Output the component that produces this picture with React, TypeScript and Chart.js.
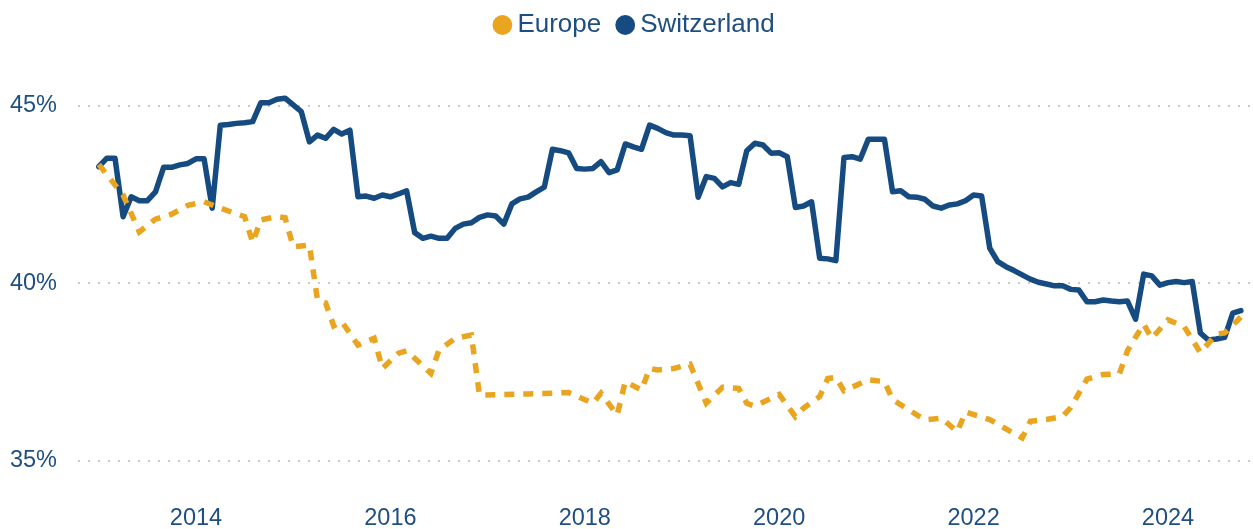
import React, { useEffect, useRef } from 'react';
import { Chart, registerables } from 'chart.js';

Chart.register(...registerables);

// ---------- data ----------
const seriesNames = ['Europe', 'Switzerland'];

// Switzerland: monthly values starting January 2013
const swissStart = '2013-01';
const swissValues = [
  43.29, 43.53, 43.53, 41.88, 42.44, 42.33, 42.33, 42.58, 43.27, 43.27, 43.34, 43.38,
  43.51, 43.51, 42.12, 44.46, 44.48, 44.51, 44.53, 44.56, 45.09, 45.09, 45.19, 45.22,
  45.03, 44.84, 43.99, 44.18, 44.09, 44.34, 44.21, 44.32, 42.44, 42.46, 42.40, 42.49,
  42.44, 42.52, 42.61, 41.43, 41.27, 41.33, 41.27, 41.27, 41.55, 41.67, 41.71, 41.86,
  41.93, 41.90, 41.67, 42.24, 42.38, 42.43, 42.58, 42.71, 43.78, 43.74, 43.68, 43.24,
  43.22, 43.24, 43.43, 43.12, 43.20, 43.93, 43.85, 43.78, 44.46, 44.37, 44.25, 44.18,
  44.18, 44.16, 42.43, 43.01, 42.96, 42.72, 42.84, 42.79, 43.74, 43.95, 43.90, 43.67,
  43.68, 43.57, 42.14, 42.18, 42.30, 40.71, 40.69, 40.64, 43.55, 43.57, 43.50, 44.06,
  44.06, 44.06, 42.58, 42.61, 42.44, 42.43, 42.37, 42.18, 42.12, 42.21, 42.24, 42.33,
  42.49, 42.46, 40.99, 40.61, 40.47, 40.36, 40.24, 40.12, 40.03, 39.98, 39.93, 39.93,
  39.83, 39.81, 39.48, 39.48, 39.53, 39.50, 39.48, 39.50, 38.99, 40.26, 40.21, 39.95,
  40.02, 40.05, 40.02, 40.05, 38.60, 38.40, 38.43, 38.48, 39.16, 39.23,
];

// Europe: observation dates and values
const europeDates = [
  '2013-01', '2013-04', '2013-06', '2013-08', '2013-10', '2013-12', '2014-02', '2014-04',
  '2014-07', '2014-08', '2014-09', '2014-11', '2014-12', '2015-01', '2015-03', '2015-04',
  '2015-05', '2015-06', '2015-07', '2015-09', '2015-11', '2015-12', '2016-02', '2016-03',
  '2016-06', '2016-07', '2016-09', '2016-11', '2016-12', '2017-06', '2017-11', '2018-02',
  '2018-03', '2018-05', '2018-06', '2018-08', '2018-09', '2018-10', '2018-12', '2019-02',
  '2019-04', '2019-06', '2019-08', '2019-09', '2019-10', '2020-01', '2020-03', '2020-04',
  '2020-06', '2020-07', '2020-08', '2020-09', '2020-12', '2021-02', '2021-03', '2021-07',
  '2021-09', '2021-11', '2021-12', '2022-03', '2022-07', '2022-08', '2022-10', '2022-12',
  '2023-01', '2023-03', '2023-05', '2023-07', '2023-08', '2023-09', '2023-10', '2023-11',
  '2024-01', '2024-03', '2024-05', '2024-07', '2024-08', '2024-10',
];
const europeValues = [
  43.35, 42.49, 41.45, 41.81, 41.95, 42.20, 42.30, 42.12,
  41.88, 41.15, 41.79, 41.88, 41.85, 41.03, 41.08, 39.53,
  39.45, 38.80, 38.92, 38.26, 38.45, 37.60, 38.03, 38.10,
  37.46, 38.12, 38.45, 38.54, 36.85, 36.88, 36.92, 36.62,
  36.90, 36.29, 37.23, 36.99, 37.60, 37.56, 37.60, 37.72,
  36.62, 37.07, 37.04, 36.62, 36.54, 36.87, 36.24, 36.48,
  36.81, 37.32, 37.35, 36.97, 37.28, 37.23, 36.72, 36.15,
  36.20, 35.82, 36.37, 36.16, 35.64, 36.11, 36.16, 36.25,
  36.50, 37.30, 37.43, 37.45, 38.10, 38.48, 38.85, 38.45,
  38.97, 38.78, 38.05, 38.57, 38.60, 39.05,
];

const yTickValues = [35, 40, 45];
const xTickYears = [2014, 2016, 2018, 2020, 2022, 2024];

// ---------- helpers ----------
const toYear = (d: string) => {
  const [y, m] = d.split('-').map(Number);
  return y + (m - 1) / 12;
};

const COLORS = {
  europe: '#EAA520',
  swiss: '#154B80',
  text: '#1F4E80',
  grid: '#C9C9C9',
};
const FONT = "'Liberation Sans', Arial, sans-serif";

// shifts the (centred) legend so that the trailing item padding does not offset it
const legendShift = {
  id: 'legendShift',
  afterLayout(chart: any) {
    if (chart.legend) {
      chart.legend.left += 12.5;
      chart.legend.right += 12.5;
    }
  },
};

export default function App() {
  const canvasRef = useRef<HTMLCanvasElement | null>(null);

  useEffect(() => {
    if (!canvasRef.current) return;
    const swissStartYear = toYear(swissStart);
    const swissData = swissValues.map((v, i) => ({ x: swissStartYear + i / 12, y: v }));
    const europeData = europeDates.map((d, i) => ({ x: toYear(d), y: europeValues[i] }));

    const chart = new Chart(canvasRef.current, {
      type: 'line',
      data: {
        datasets: [
          {
            label: seriesNames[0],
            data: europeData,
            borderColor: COLORS.europe,
            backgroundColor: COLORS.europe,
            borderWidth: 5.5,
            borderDash: [10, 9],
            borderCapStyle: 'butt',
            borderJoinStyle: 'miter',
            pointRadius: 0,
            tension: 0,
          },
          {
            label: seriesNames[1],
            data: swissData,
            borderColor: COLORS.swiss,
            backgroundColor: COLORS.swiss,
            borderWidth: 5.5,
            borderCapStyle: 'round',
            borderJoinStyle: 'round',
            pointRadius: 0,
            tension: 0,
          },
        ],
      },
      plugins: [legendShift],
      options: {
        animation: false,
        responsive: true,
        maintainAspectRatio: false,
        layout: { padding: { top: -10, right: 3, left: 0, bottom: 0 } },
        plugins: {
          tooltip: { enabled: false },
          legend: {
            position: 'top',
            labels: {
              usePointStyle: true,
              pointStyle: 'circle',
              boxWidth: 4,
              boxHeight: 14,
              padding: 22,
              color: COLORS.text,
              font: { family: FONT, size: 26 },
              generateLabels: (c: any) =>
                (Chart.defaults.plugins.legend.labels.generateLabels as any)(c).map((l: any) => ({
                  ...l,
                  lineWidth: 0,
                  lineDash: [],
                  fontColor: COLORS.text,
                })),
            },
          },
        },
        scales: {
          x: {
            type: 'linear',
            min: 2012.786,
            max: 2024.844,
            bounds: 'data',
            grid: { display: false, drawTicks: false },
            border: { display: false },
            afterBuildTicks: (scale: any) => {
              scale.ticks = xTickYears.map((v) => ({ value: v }));
            },
            afterFit: (scale: any) => {
              scale.height = 39;
            },
            ticks: {
              autoSkip: false,
              maxRotation: 0,
              padding: 14.6,
              color: COLORS.text,
              font: { family: FONT, size: 23.5 },
              callback: (v: any) => String(v),
            },
          },
          y: {
            type: 'linear',
            min: 34.174,
            max: 46.635,
            grid: {
              color: COLORS.grid,
              lineWidth: 2,
              drawTicks: false,
            },
            border: { display: false, dash: [2, 8] },
            afterBuildTicks: (scale: any) => {
              scale.ticks = yTickValues.map((v) => ({ value: v }));
            },
            afterFit: (scale: any) => {
              scale.width = 78;
            },
            ticks: {
              padding: 21,
              color: COLORS.text,
              font: { family: FONT, size: 23.5 },
              callback: (v: any) => v + '%',
            },
          },
        },
      } as any,
    });
    return () => chart.destroy();
  }, []);

  return (
    <div style={{ position: 'fixed', left: 0, top: 0, width: 1253, height: 529, background: '#fff' }}>
      <canvas ref={canvasRef} />
    </div>
  );
}
